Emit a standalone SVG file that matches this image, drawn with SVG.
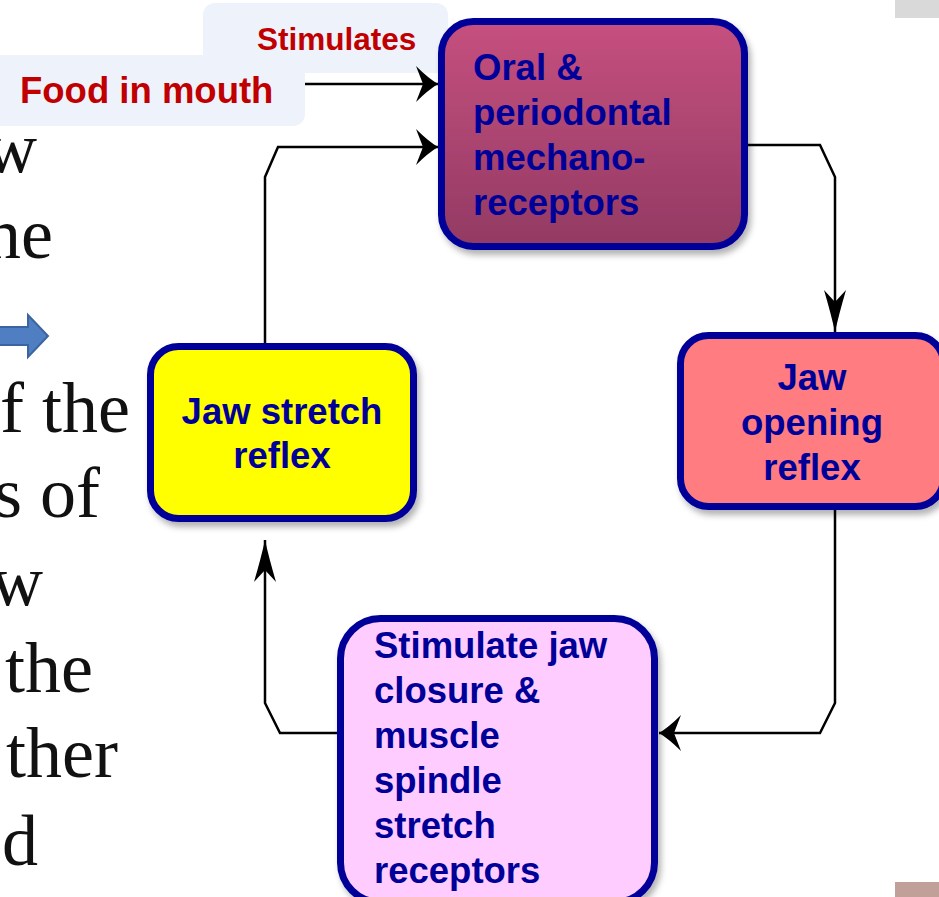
<svg xmlns="http://www.w3.org/2000/svg" width="939" height="897" viewBox="0 0 939 897">
<style>
.bg{font-family:"Liberation Serif",serif;font-size:72px;fill:#111;text-anchor:end}
.lbl{font-family:"Liberation Sans",Arial,sans-serif;font-weight:bold;fill:#c00000}
.nt{font-family:"Liberation Sans",Arial,sans-serif;font-weight:bold;font-size:36.5px;fill:#000099}
.box{stroke:#000099;stroke-width:7}
.conn{fill:none;stroke:#000;stroke-width:2.5}
</style>
<defs>
<linearGradient id="gOral" x1="0" y1="0" x2="0" y2="1">
<stop offset="0" stop-color="#c6507f"/>
<stop offset="1" stop-color="#923a63"/>
</linearGradient>
<filter id="sh" x="-10%" y="-10%" width="130%" height="130%">
<feDropShadow dx="3" dy="5" stdDeviation="3" flood-color="#000" flood-opacity="0.3"/>
</filter>
<marker id="ah" markerUnits="userSpaceOnUse" markerWidth="23" markerHeight="36" refX="22" refY="18" orient="auto">
<path d="M0,0 Q12,12 22,18 Q12,24 0,36 L7,18 Z" fill="#000"/>
</marker>
<marker id="av" markerUnits="userSpaceOnUse" markerWidth="43" markerHeight="22" refX="42" refY="11" orient="auto">
<path d="M0,0 Q24,7 42,11 Q24,15 0,22 L12,11 Z" fill="#000"/>
</marker>
</defs>
<rect width="939" height="897" fill="#fff"/>
<rect x="895" y="0" width="44" height="18" fill="#d9d9d9"/>
<rect x="895" y="882" width="44" height="15" fill="#c0a098"/>
<g id="background-text">
<text class="bg" x="37" y="172">w</text>
<text class="bg" x="53" y="258">ne</text>
<text class="bg" x="130" y="432">f the</text>
<text class="bg" x="100" y="517">s of</text>
<text class="bg" x="43" y="605">w</text>
<text class="bg" x="93" y="692">the</text>
<text class="bg" x="118" y="777">ther</text>
<text class="bg" x="38" y="865">d</text>
<path d="M-2,327 H28 V315 L48,336 L28,357 V345 H-2 Z" fill="#4f7fc2" stroke="#3c64a0" stroke-width="2"/>
</g>
<g id="label-stimulates">
<rect x="203" y="3" width="245" height="70" rx="12" fill="#eef2fa"/>
<text class="lbl" x="257" y="50" font-size="31.5">Stimulates</text>
</g>
<g id="label-food">
<rect x="-12" y="55" width="317" height="71" rx="12" fill="#eef2fa"/>
<text class="lbl" x="20" y="103" font-size="36.5">Food in mouth</text>
</g>
<g id="connectors">
<path class="conn" d="M305,84 H438" marker-end="url(#ah)"/>
<path class="conn" d="M265,343 V177 L278,147 H438" marker-end="url(#ah)"/>
<path class="conn" d="M748,145 H820 L835,177 V332" marker-end="url(#av)"/>
<path class="conn" d="M835,510 V703 L820,733 H659" marker-end="url(#ah)"/>
<path class="conn" d="M337,733 H280 L265,703 V540" marker-end="url(#av)"/>
</g>
<g id="node-oral">
<rect class="box" x="441.5" y="21.5" width="303" height="225" rx="32" fill="url(#gOral)" filter="url(#sh)"/>
<text class="nt" x="473" y="80">Oral &amp;</text>
<text class="nt" x="473" y="125">periodontal</text>
<text class="nt" x="473" y="170">mechano-</text>
<text class="nt" x="473" y="215">receptors</text>
</g>
<g id="node-jaw-opening">
<rect class="box" x="680.5" y="335.5" width="263" height="171" rx="28" fill="#ff7c80" filter="url(#sh)"/>
<text class="nt" x="812" y="390" text-anchor="middle">Jaw</text>
<text class="nt" x="812" y="435" text-anchor="middle">opening</text>
<text class="nt" x="812" y="480" text-anchor="middle">reflex</text>
</g>
<g id="node-stimulate">
<rect class="box" x="340.5" y="618.5" width="314" height="284" rx="40" fill="#ffccff" filter="url(#sh)"/>
<text class="nt" x="374" y="658">Stimulate jaw</text>
<text class="nt" x="374" y="703">closure &amp;</text>
<text class="nt" x="374" y="748">muscle</text>
<text class="nt" x="374" y="793">spindle</text>
<text class="nt" x="374" y="838">stretch</text>
<text class="nt" x="374" y="883">receptors</text>
</g>
<g id="node-jaw-stretch">
<rect class="box" x="150.5" y="346.5" width="263" height="172" rx="28" fill="#ffff00" filter="url(#sh)"/>
<text class="nt" x="282" y="424" text-anchor="middle">Jaw stretch</text>
<text class="nt" x="282" y="468" text-anchor="middle">reflex</text>
</g>
</svg>
